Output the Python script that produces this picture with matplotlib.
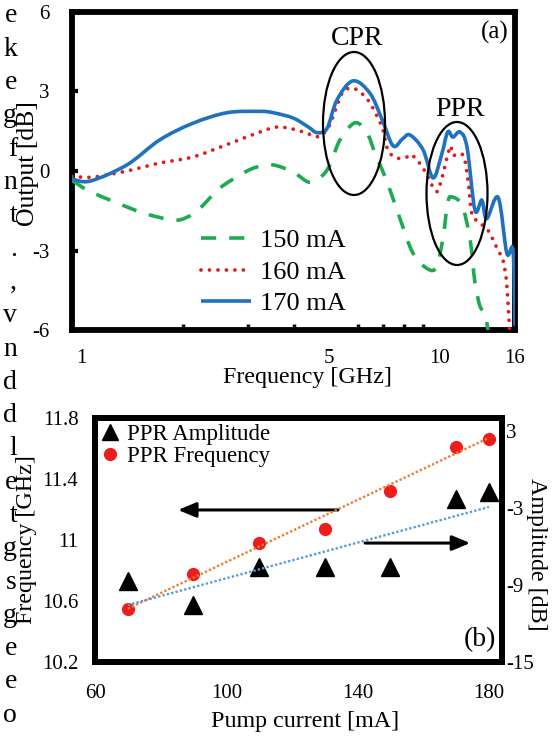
import numpy as np
import matplotlib
matplotlib.use('Agg')
import matplotlib.pyplot as plt
from matplotlib.patches import Ellipse, PathPatch
from matplotlib.path import Path
from matplotlib.lines import Line2D
from matplotlib.ticker import FixedLocator, NullFormatter
import matplotlib.transforms as mtransforms

plt.rcParams['font.family'] = ['Liberation Serif', 'DejaVu Serif']

# ---------------- data: panel (a) ----------------
freq_150 = [1.0, 1.10, 1.27, 1.56, 1.88, 2.05, 2.23, 2.52, 2.92, 3.18, 3.52, 3.99, 4.43,
            4.81, 5.05, 5.35, 5.88, 6.34, 6.66, 7.18, 7.79, 8.45, 9.28, 9.8, 10.2, 10.5,
            10.78, 11.48, 12.07, 12.45, 12.85, 13.26, 13.7]
out_150 = [-0.35, -0.72, -1.1, -1.58, -1.85, -1.75, -1.4, -0.65, -0.08, 0.15, 0.23, -0.04,
           -0.43, -0.15, 0.3, 1.17, 1.82, 1.43, 0.68, -0.4, -1.8, -3.1, -3.7, -3.6, -2.5,
           -1.2, -0.98, -1.3, -2.55, -4.2, -5.1, -5.4, -6.5]

freq_160 = [1.0, 1.14, 1.41, 1.73, 2.13, 2.64, 3.24, 3.61, 3.99, 4.3, 4.7, 5.0, 5.2, 5.45,
            5.77, 6.1, 6.45, 6.96, 7.22, 7.64, 8.14, 8.4, 9.0, 9.7, 10.0, 10.65, 10.85,
            11.55, 11.92, 12.2, 12.7, 13.5, 14.4, 14.84, 15.2, 15.5]
out_160 = [-0.2, -0.23, 0.0, 0.3, 0.53, 1.0, 1.47, 1.66, 1.58, 1.45, 1.3, 1.7, 2.3, 2.98,
           3.13, 2.95, 2.57, 1.66, 0.8, 0.49, 0.53, 0.6, 0.11, -0.72, -0.53, 0.9, 0.6,
           0.6, -0.34, -1.58, -1.92, -2.23, -3.0, -3.36, -4.3, -6.3]

freq_170 = [1.0, 1.12, 1.41, 1.73, 2.13, 2.64, 3.24, 3.52, 3.99, 4.4, 4.63, 4.93, 5.25,
            5.8, 6.45, 6.96, 7.46, 7.9, 8.29, 9.0, 9.58, 10.1, 10.5, 10.85, 11.34, 11.85,
            12.45, 13.0, 13.4, 14.4, 15.2, 15.8, 16.0]
out_170 = [-0.3, -0.38, 0.23, 1.17, 1.8, 2.2, 2.25, 2.2, 2.0, 1.65, 1.45, 1.6, 2.68, 3.4,
           2.94, 1.95, 0.95, 1.2, 1.36, 0.8, -0.26, 0.6, 1.47, 1.28, 1.47, 0.9, -1.47,
           -1.1, -1.8, -1.0, -3.1, -3.0, -5.8]

series_labels = ['150 mA', '160 mA', '170 mA']
freq_ticks = [1, 5, 10, 16]
out_ticks = [-6, -3, 0, 3, 6]

# ---------------- data: panel (b) ----------------
pump = [70, 90, 110, 130, 150, 170, 180]
ppr_freq = [10.55, 10.78, 10.98, 11.07, 11.32, 11.61, 11.66]
ppr_amp = [-8.7, -10.56, -7.63, -7.63, -7.63, -2.3, -1.8]
trend_x = [70, 180]
trend_freq = [10.55, 11.67]
trend_amp = [-10.56, -2.93]
pump_ticks = [60, 100, 140, 180]
freq_axis_ticks = [10.2, 10.6, 11.0, 11.4, 11.8]
freq_axis_labels = ['10.2', '10.6', '11', '11.4', '11.8']
amp_ticks = [-15, -9, -3, 3]

# cut-off body text at the left edge
body_letters = ['e', 'k', 'e', 'g', 'f', 'n', 't', '.', ',', 'v', 'n', 'd', 'd', 'l',
                'e', 't', 'g', 's', 'g', 'e', 'e', 'o']

GREEN = '#1eab50'
RED = '#e21a1c'
BLUE = '#1f72bd'

W, H = 558, 736
fig = plt.figure(figsize=(W / 100, H / 100), dpi=100)


def fa(l, t, r, b):
    return [l / W, 1 - b / H, (r - l) / W, (b - t) / H]


def smooth_path(xs, ys):
    """Excel-like smoothed line: Catmull-Rom segments (in log-x space) drawn as
    cubic Bezier curves through every data point."""
    lx = np.log10(np.asarray(xs, float))
    y = np.asarray(ys, float)
    P = np.column_stack([lx, y])
    P = np.vstack([P[0], P, P[-1]])
    verts = [P[1]]
    codes = [Path.MOVETO]
    for i in range(1, len(P) - 2):
        p0, p1, p2, p3 = P[i - 1], P[i], P[i + 1], P[i + 2]
        c1 = p1 + (p2 - p0) / 6.0
        c2 = p2 - (p3 - p1) / 6.0
        verts += [c1, c2, p2]
        codes += [Path.CURVE4] * 3
    verts = np.array(verts)
    verts[:, 0] = 10 ** verts[:, 0]
    return Path(verts, codes)


# ================= panel (a) =================
ax = fig.add_axes(fa(72, 12, 515, 330))
ax.set_xscale('log')
ax.set_xlim(1, 16)
ax.set_ylim(-6, 6)

styles = [
    dict(color=GREEN, lw=2.6, ls=(0, (4.2, 3.6)), cap='butt'),
    dict(color=RED, lw=2.7, ls=(0, (0.01, 2.25)), cap='round'),
    dict(color=BLUE, lw=2.6, ls='-', cap='round'),
]
handles = []
for (fx, fy), st, lab in zip([(freq_150, out_150), (freq_160, out_160), (freq_170, out_170)],
                             styles, series_labels):
    pp = PathPatch(smooth_path(fx, fy), transform=ax.transData, fill=False,
                   ec=st['color'], lw=st['lw'], ls=st['ls'], capstyle=st['cap'], zorder=3)
    ax.add_patch(pp)
    handles.append(Line2D([], [], color=st['color'], lw=st['lw'], ls=st['ls'],
                          dash_capstyle=st['cap'], solid_capstyle='butt'))

ax.set_xticks(freq_ticks)
ax.set_xticklabels([str(t) for t in freq_ticks])
ax.xaxis.set_minor_locator(FixedLocator([2, 3, 4, 5, 6, 7, 8, 9, 10]))
ax.xaxis.set_minor_formatter(NullFormatter())
ax.tick_params(axis='x', which='major', length=0, pad=14, labelsize=15)
ax.tick_params(axis='x', which='minor', direction='in', length=4, width=2.5)
ax.set_yticks(out_ticks)
ax.set_yticklabels([str(t) for t in out_ticks])
ax.tick_params(axis='y', direction='in', length=4, width=3, pad=16, labelsize=15)
for s in ax.spines.values():
    s.set_linewidth(4.2)
lab0 = ax.get_xticklabels()[0]
lab0.set_transform(lab0.get_transform() +
                   mtransforms.ScaledTranslation(9 / 100, 0, fig.dpi_scale_trans))

ax.legend(handles, series_labels, loc='upper left',
          bbox_to_anchor=((201 - 72) / 443, (330 - 229) / 318),
          frameon=False, fontsize=19, handlelength=1.9, handletextpad=0.35,
          labelspacing=0.3, borderpad=0, borderaxespad=0)

ax.add_patch(Ellipse(((354 - 72) / 443, (330 - 123.5) / 318), 62 / 443, 143 / 318,
                     transform=ax.transAxes, fill=False, ec='black', lw=1.6, zorder=5))
ax.add_patch(Ellipse(((457 - 72) / 443, (330 - 193.5) / 318), 61 / 443, 143 / 318,
                     transform=ax.transAxes, fill=False, ec='black', lw=1.6, zorder=5))
ax.text(0.643, 0.918, 'CPR', transform=ax.transAxes, ha='center', va='center', fontsize=20)
ax.text(0.876, 0.692, 'PPR', transform=ax.transAxes, ha='center', va='center', fontsize=20)
ax.text(0.955, 0.937, '(a)', transform=ax.transAxes, ha='center', va='center', fontsize=18)

fig.text(28 / W, 1 - 164 / H, 'Output [dB]', rotation=90, ha='center', va='center',
         fontsize=18.5)
fig.text(307 / W, 1 - 378 / H, 'Frequency [GHz]', ha='center', va='center', fontsize=17.3)

# ================= panel (b) =================
axb = fig.add_axes(fa(95, 418, 502, 662))
axb.plot(pump, ppr_freq, 'o', color='#ee1c1c', ms=9.5, mec='none', zorder=3)
axb.plot(trend_x, trend_freq, color='#ED7D31', ls=(0, (1, 0.9)), lw=1.7, zorder=4)
axb.set_xlim(60, 184)
axb.set_ylim(10.2, 11.8)
axb.set_xticks(pump_ticks)
axb.set_yticks(freq_axis_ticks)
axb.set_yticklabels(freq_axis_labels)
axb.tick_params(axis='both', length=0, labelsize=15)
axb.tick_params(axis='x', pad=16)
axb.tick_params(axis='y', pad=12)
for s in axb.spines.values():
    s.set_linewidth(4.2)

arrow_props = dict(arrowstyle='-|>,head_length=0.6,head_width=0.25', color='black',
                   lw=2.2, mutation_scale=18, shrinkA=0, shrinkB=0)
axb.annotate('', xy=(85.3, 11.197), xytext=(134.0, 11.197), arrowprops=arrow_props)
axb.annotate('', xy=(174.3, 10.98), xytext=(142.3, 10.98), arrowprops=arrow_props)

axr = axb.twinx()
axr.plot(pump, ppr_amp, '^', color='black', ms=13, zorder=3)
axr.plot(trend_x, trend_amp, color='#5B9BD5', ls=(0, (1, 0.9)), lw=1.7, zorder=4)
axr.set_ylim(-14.8, 4)
axr.set_yticks(amp_ticks)
axr.set_yticklabels([str(t) for t in amp_ticks])
axr.tick_params(axis='y', length=0, pad=3, labelsize=15)
for s in axr.spines.values():
    s.set_linewidth(4.2)

axb.text(0.946, 0.09, '(b)', transform=axb.transAxes, ha='center', va='center', fontsize=20)

h1 = Line2D([], [], marker='^', color='black', ls='none', ms=11)
h2 = Line2D([], [], marker='o', color='#ee1c1c', mec='none', ls='none', ms=9.5)
axr.legend([h1, h2], ['PPR Amplitude', 'PPR Frequency'], loc='upper left',
           bbox_to_anchor=((101 - 95) / 407, (662 - 424) / 244), frameon=False,
           fontsize=16.5, handlelength=0.8, handletextpad=0.35, labelspacing=0.05,
           borderpad=0, borderaxespad=0)

fig.text(27 / W, 1 - 540 / H, 'Frequency [GHz]', rotation=90, ha='center', va='center',
         fontsize=17.3)
fig.text(537 / W, 1 - 554 / H, 'Amplitude [dB]', rotation=270, ha='center', va='center',
         fontsize=17.3)
fig.text(305 / W, 1 - 722 / H, 'Pump current [mA]', ha='center', va='center', fontsize=17.3)

# body-text fragments cut at the left edge
for i, ch in enumerate(body_letters):
    fig.text(17 / W, 1 - (16 + 33.3 * i) / H, ch, ha='right', va='center', fontsize=20)

fig.savefig('out.png', dpi=100)
